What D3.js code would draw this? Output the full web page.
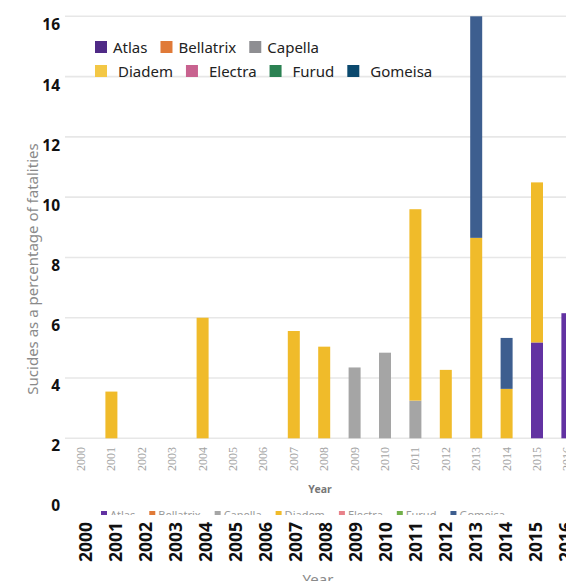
<!DOCTYPE html>
<html>
<head>
<meta charset="utf-8">
<script src="https://cdn.jsdelivr.net/npm/d3@7"></script>
<style>
  body { margin: 0; background: #fff; }
  svg { display: block; }
</style>
</head>
<body>
<svg id="chart" width="566" height="581"></svg>
<script>
// Years on the category axis
const years = ["2000","2001","2002","2003","2004","2005","2006","2007","2008",
               "2009","2010","2011","2012","2013","2014","2015","2016"];

// Series (stack order bottom to top)
const seriesNames = ["Atlas","Bellatrix","Capella","Diadem","Electra","Furud","Gomeisa"];
const legendColors = ["#4f2a86","#e07a38","#8e8e92","#f3c745","#c8628f","#2b8152","#0b496e"];
const barColors    = ["#6232a2","#e07a38","#a5a5a5","#f0bb2a","#e8828a","#72b04a","#3d5e8f"];

// Values per series, one per year
const atlas     = [0,0,0,0,0,0,0,0,0,0,0,0,0,0,0,3.18,4.15];
const bellatrix = [0,0,0,0,0,0,0,0,0,0,0,0,0,0,0,0,0];
const capella   = [0,0,0,0,0,0,0,0,0,2.35,2.84,1.25,0,0,0,0,0];
const diadem    = [0,1.55,0,0,4.0,0,0,3.56,3.04,0,0,6.35,2.27,6.65,1.64,5.31,0];
const electra   = [0,0,0,0,0,0,0,0,0,0,0,0,0,0,0,0,0];
const furud     = [0,0,0,0,0,0,0,0,0,0,0,0,0,0,0,0,0];
const gomeisa   = [0,0,0,0,0,0,0,0,0,0,0,0,0,7.35,1.69,0,0];

// Tick values
const gridTicks = [0,2,4,6,8,10,12,14];
const axisTicks = [0,2,4,6,8,10,12,14,16];

const seriesValues = [atlas, bellatrix, capella, diadem, electra, furud, gomeisa];
const rows = years.map((y, i) => {
  const r = { year: y };
  seriesNames.forEach((s, k) => { r[s] = seriesValues[k][i]; });
  return r;
});

const svg = d3.select("#chart");
const W = 566, H = 581;

// ---- plot scales ----
const xBar = d3.scalePoint().domain(years).range([81, 567.4]);
const yBar = d3.scaleLinear().domain([0, 14]).range([438.3, 16.3]);
const barW = 12;

// gridlines
svg.append("g").selectAll("line").data(gridTicks).join("line")
  .attr("x1", 65).attr("x2", W)
  .attr("y1", d => yBar(d)).attr("y2", d => yBar(d))
  .attr("stroke", "#e7e7e7").attr("stroke-width", 1.6);

// stacked bars
const stack = d3.stack().keys(seriesNames)(rows);
const colorOf = d3.scaleOrdinal().domain(seriesNames).range(barColors);
svg.append("g").selectAll("g").data(stack).join("g")
  .attr("fill", d => colorOf(d.key))
  .selectAll("rect").data(d => d.filter(p => p[1] - p[0] > 0)).join("rect")
  .attr("x", d => xBar(d.data.year) - barW / 2)
  .attr("width", barW)
  .attr("y", d => yBar(d[1]))
  .attr("height", d => yBar(d[0]) - yBar(d[1]));

// small year labels under the bars
svg.append("g").selectAll("text").data(years).join("text")
  .attr("transform", d => `translate(${xBar(d) + 4},447) rotate(-90)`)
  .attr("text-anchor", "end")
  .attr("font-family", "'Liberation Serif', serif")
  .attr("font-size", 12)
  .attr("fill", "#a3a3a3")
  .text(d => d);

svg.append("text")
  .attr("x", 320).attr("y", 493)
  .attr("text-anchor", "middle")
  .attr("font-family", "'Noto Sans', sans-serif")
  .attr("font-weight", "bold")
  .attr("font-size", 10.5)
  .attr("fill", "#777")
  .text("Year");

// lower legend strip (partly hidden)
svg.append("clipPath").attr("id", "stripClip")
  .append("rect").attr("x", 0).attr("y", 500).attr("width", W).attr("height", 15);
const strip = svg.append("g").attr("clip-path", "url(#stripClip)")
  .attr("font-family", "'Noto Sans', sans-serif").attr("font-size", 11).attr("fill", "#9a9a9a");
let sx = 101;
seriesNames.forEach((s, k) => {
  strip.append("rect").attr("x", sx).attr("y", 511).attr("width", 6).attr("height", 6)
    .attr("fill", barColors[k]);
  const t = strip.append("text").attr("x", sx + 9).attr("y", 519).text(s);
  sx += 9 + t.node().getComputedTextLength() + 14;
});

// ---- axes ----
const yAxisScale = d3.scaleLinear().domain([0, 16]).range([506, 25]);
const xAxisScale = d3.scalePoint().domain(years).range([85, 565]);

const yAxis = svg.append("g").attr("transform", "translate(60,0)")
  .call(d3.axisLeft(yAxisScale).tickValues(axisTicks).tickSize(0).tickPadding(0));
yAxis.select(".domain").remove();
yAxis.selectAll("text")
  .attr("font-family", "'Noto Sans', sans-serif")
  .attr("font-weight", "bold")
  .attr("font-size", 15.5)
  .attr("fill", "#111");

const xAxis = svg.append("g").attr("transform", "translate(0,562)")
  .call(d3.axisBottom(xAxisScale).tickSize(0).tickPadding(0));
xAxis.select(".domain").remove();
xAxis.selectAll("text")
  .attr("transform", "rotate(-90)")
  .attr("x", 0).attr("y", 0).attr("dy", "0.35em")
  .attr("text-anchor", "start")
  .attr("font-family", "'Noto Sans', sans-serif")
  .attr("font-weight", "bold")
  .attr("font-size", 17.5)
  .attr("fill", "#111");

svg.append("text")
  .attr("transform", "translate(33,269) rotate(-90)")
  .attr("text-anchor", "middle")
  .attr("dy", "0.35em")
  .attr("font-family", "'Noto Sans', sans-serif")
  .attr("font-size", 15)
  .attr("fill", "#8a8a8a")
  .text("Sucides as a percentage of fatalities");

svg.append("text")
  .attr("x", 318).attr("y", 585)
  .attr("text-anchor", "middle")
  .attr("font-family", "'Noto Sans', sans-serif")
  .attr("font-size", 15)
  .attr("fill", "#8a8a8a")
  .text("Year");

// ---- top legend, two rows ----
const legendRows = [
  { names: seriesNames.slice(0, 3), y: 41, gapText: 6 },
  { names: seriesNames.slice(3), y: 65, gapText: 11 }
];
const legend = svg.append("g")
  .attr("font-family", "'Noto Sans', sans-serif")
  .attr("font-size", 15)
  .attr("fill", "#222");
legendRows.forEach(row => {
  let lx = 95;
  row.names.forEach(name => {
    const k = seriesNames.indexOf(name);
    legend.append("rect").attr("x", lx).attr("y", row.y).attr("width", 12).attr("height", 12)
      .attr("fill", legendColors[k]);
    const t = legend.append("text").attr("x", lx + 12 + row.gapText).attr("y", row.y + 11.5).text(name);
    lx += 12 + row.gapText + t.node().getComputedTextLength() + 13;
  });
});
</script>
</body>
</html>
